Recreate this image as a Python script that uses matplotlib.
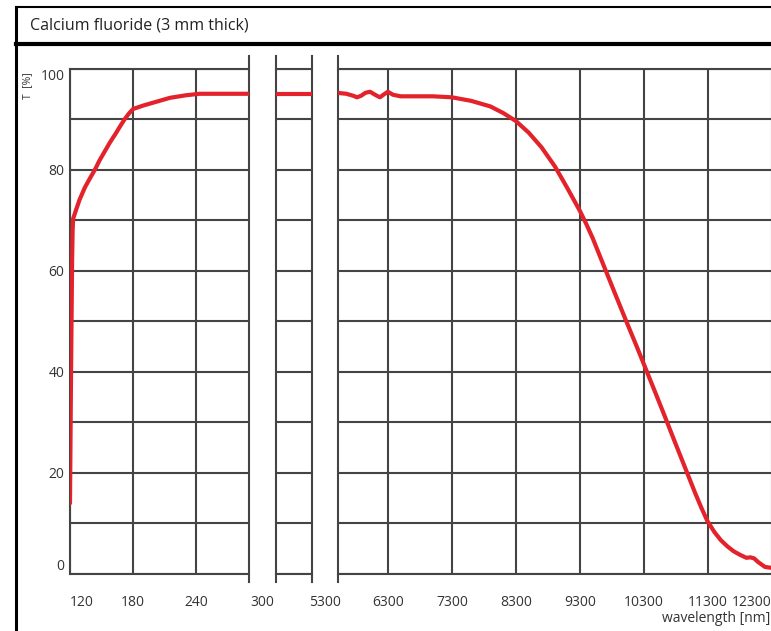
"""
Calcium fluoride (3 mm thick) transmission curve, broken wavelength axis.
"""
import matplotlib
matplotlib.use("Agg")
import matplotlib.pyplot as plt
from matplotlib.lines import Line2D

plt.rcParams["font.family"] = ["Open Sans", "DejaVu Sans"]

TITLE = "Calcium fluoride (3 mm thick)"

# UV part (120 .. 300 nm)
uv_nm = [120, 121, 122, 122.5, 123, 125.7, 129, 134.2, 139, 143.7, 148, 153, 158,
         163, 167.4, 172, 176, 180, 190, 200, 215, 230, 243, 260, 290]
uv_T = [14, 40, 62, 68, 70.3, 72, 74, 76.5, 78.3, 80, 81.8, 83.6, 85.4,
        87, 88.5, 90, 91.1, 92, 92.7, 93.3, 94.2, 94.7, 95, 95, 95]

# bridge segment (300 .. 5300 nm)
mid_nm = [300, 5300]
mid_T = [95, 95]

# IR part (5300 .. 12300 nm)
ir_nm = [5500, 5650, 5760, 5816, 5880, 5950, 6020, 6100, 6175, 6240, 6300, 6380,
         6500, 7000, 7300, 7600, 7900, 8100, 8300, 8500, 8700, 8910, 9100, 9300,
         9400, 9500, 9665, 9850, 10030, 10190, 10340, 10480, 10628, 10780, 10940,
         11100, 11200, 11290, 11400, 11500, 11600, 11700, 11800, 11900, 11960,
         12020, 12080, 12190, 12300]
ir_T = [95.2, 95.0, 94.6, 94.3, 94.6, 95.2, 95.4, 94.8, 94.3, 94.9, 95.4, 94.8,
        94.5, 94.5, 94.3, 93.6, 92.5, 91.2, 89.6, 87.3, 84.4, 80.6, 76.4, 71.8,
        69.2, 66.4, 61.2, 55.4, 49.8, 44.9, 40.2, 35.8, 31.1, 26.2, 21.1,
        16.0, 13.0, 10.5, 8.3, 6.7, 5.5, 4.5, 3.8, 3.2, 3.3,
        3.1, 2.4, 1.4, 1.2]

uv_ticks = [120, 180, 240]
ir_ticks = [6300, 7300, 8300, 9300, 10300, 11300, 12300]
y_ticks = [0, 20, 40, 60, 80, 100]
break_labels = ["300", "5300"]

W, H = 771, 631
GRID = "#444444"
RED = "#e3222b"
TXT = "#333333"

fig = plt.figure(figsize=(W / 100, H / 100), dpi=100)
fig.patch.set_facecolor("white")


def px(x0, x1, y0=68.5, y1=574):
    return [x0 / W, 1 - y1 / H, (x1 - x0) / W, (y1 - y0) / H]


ax1 = fig.add_axes(px(70, 249))
ax2 = fig.add_axes(px(276, 312))
ax3 = fig.add_axes(px(338, 772))

line_kw = dict(color=RED, lw=3, solid_capstyle="round", solid_joinstyle="round", zorder=5)
ax1.plot(uv_nm, uv_T, **line_kw)
ax2.plot(mid_nm, mid_T, **line_kw)
ax3.plot(ir_nm, ir_T, **line_kw)

ax1.set_xlim(120, 290)
ax2.set_xlim(300, 5300)
ax3.set_xlim(5520, 12300)

for ax in (ax1, ax2, ax3):
    ax.set_ylim(0, 100)
    ax.set_yticks(y_ticks)
    ax.set_yticks(range(10, 100, 10), minor=True)
    ax.grid(True, which="both", axis="y", color=GRID, lw=1.5)
    ax.tick_params(which="both", length=0)
    for side in ("top", "bottom", "left", "right"):
        ax.spines[side].set_color(GRID)
        ax.spines[side].set_linewidth(1.5)
    ax.spines["right"].set_visible(False)

ax1.set_xticks(uv_ticks)
ax3.set_xticks(ir_ticks)
ax2.set_xticks([])
for ax in (ax1, ax3):
    ax.grid(True, which="major", axis="x", color=GRID, lw=1.5)
    ax.tick_params(axis="x", pad=15, labelsize=10, labelcolor=TXT)

ax1.tick_params(axis="y", pad=4, labelsize=10, labelcolor=TXT)
ax2.tick_params(axis="y", labelleft=False)
ax3.tick_params(axis="y", labelleft=False)
ax2.spines["left"].set_visible(False)
ax3.spines["left"].set_visible(False)

ylabels = ax1.get_yticklabels()
ylabels[0].set_va("bottom")
ylabels[-1].set_va("top")
ax1.get_xticklabels()[0].set_ha("left")
ax3.get_xticklabels()[-1].set_ha("right")

# break edges stick out above and below the grid
lo, hi = -8 / 505.5, 1 + 13 / 505.5
for ax, x in ((ax1, 290), (ax2, 300), (ax2, 5300), (ax3, 5520)):
    ax.axvline(x, ymin=lo, ymax=hi, color=GRID, lw=1.5, clip_on=False)

# labels for the axis breaks, centred in the gaps
p1, p2, p3 = ax1.get_position(), ax2.get_position(), ax3.get_position()
lab_y = p1.y0 - 21 / H
fig.text((p1.x1 + p2.x0) / 2, lab_y, break_labels[0], ha="center", va="top",
         fontsize=10, color=TXT)
fig.text((p2.x1 + p3.x0) / 2, lab_y, break_labels[1], ha="center", va="top",
         fontsize=10, color=TXT)

fig.text(1 - 1 / W, 1 - 619 / H, "wavelength [nm]", ha="right", va="center",
         fontsize=10, color=TXT)
fig.text(28 / W, 1 - 86 / H, "T  [%]", rotation=90, ha="center", va="center",
         fontsize=7.5, color=TXT)

# title box and outer frame
fig.add_artist(Line2D([16 / W, 1], [1 - 7 / H] * 2, color="black", lw=1.5))
fig.add_artist(Line2D([16 / W, 1], [1 - 44 / H] * 2, color="black", lw=3))
fig.add_artist(Line2D([16 / W] * 2, [0, 1 - 7 / H], color="black", lw=2.2))
fig.text(30 / W, 1 - 26 / H, TITLE, ha="left", va="center", fontsize=11.5,
         color="#222222")

fig.savefig("out.png", dpi=100)
